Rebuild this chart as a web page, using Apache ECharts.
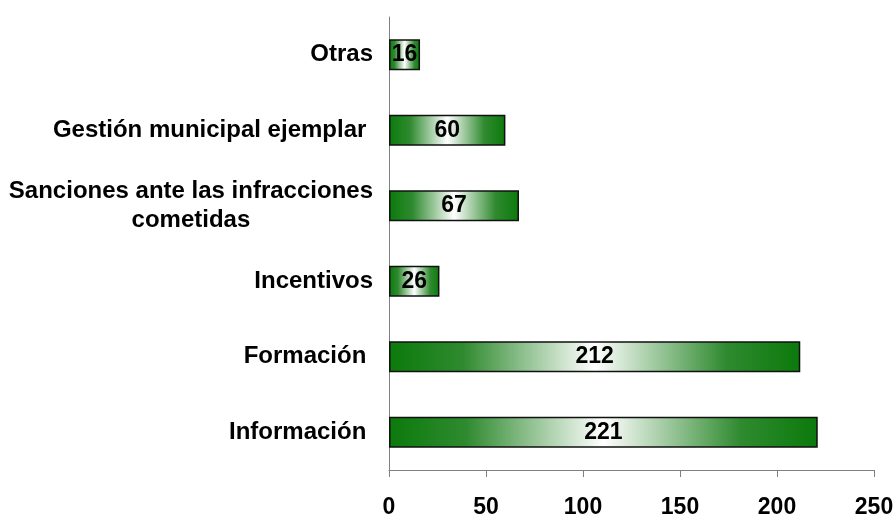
<!DOCTYPE html>
<html>
<head>
<meta charset="utf-8">
<script src="https://cdn.jsdelivr.net/npm/echarts@6/dist/echarts.min.js"></script>
<style>
  html, body { margin: 0; padding: 0; background: #fff; }
  #chart { width: 896px; height: 515px; }
</style>
</head>
<body>
<div id="chart"></div>
<script>
// categories listed bottom to top
const categories = ['Información ', 'Formación ', 'Incentivos', 'Sanciones ante las infracciones\ncometidas', 'Gestión municipal ejemplar ', 'Otras']
const values = [221, 212, 26, 67, 60, 16]
const xTicks = [0, 50, 100, 150, 200, 250]

const green = '#0b7a0b'
const font = 'Liberation Sans, Arial'
const barFill = new echarts.graphic.LinearGradient(0, 0, 1, 0, [
  { offset: 0, color: green },
  { offset: 0.18, color: '#2f8a2f' },
  { offset: 0.5, color: '#ffffff' },
  { offset: 0.82, color: '#2f8a2f' },
  { offset: 1, color: green }
])

const myChart = echarts.init(document.getElementById('chart'))
myChart.setOption({
  animation: false,
  grid: { left: 389, right: 22, top: 17, bottom: 45, outerBoundsMode: 'none' },
  xAxis: {
    type: 'value',
    min: xTicks[0],
    max: xTicks[xTicks.length - 1],
    interval: 50,
    splitLine: { show: false },
    axisLine: { show: true, lineStyle: { color: '#808080', width: 1 } },
    axisTick: { show: true, length: 7, lineStyle: { color: '#808080' } },
    axisLabel: {
      margin: 26,
      color: '#000',
      fontFamily: font,
      fontWeight: 'bold',
      fontSize: 23
    }
  },
  yAxis: {
    type: 'category',
    data: categories,
    axisLine: { show: true, lineStyle: { color: '#808080', width: 1 } },
    axisTick: { show: false },
    axisLabel: {
      margin: 16,
      color: '#000',
      fontFamily: font,
      fontWeight: 'bold',
      fontSize: 24,
      lineHeight: 29,
      formatter: function (val) {
        return val.split('\n').map(s => '{c|' + s + '}').join('\n')
      },
      rich: {
        c: {
          align: 'center',
          color: '#000',
          fontFamily: font,
          fontWeight: 'bold',
          fontSize: 24,
          lineHeight: 29
        }
      }
    }
  },
  series: [{
    type: 'bar',
    barWidth: 31,
    data: values,
    itemStyle: {
      color: barFill,
      borderColor: '#111',
      borderWidth: 1.5
    },
    label: {
      show: true,
      position: 'inside',
      color: '#000',
      fontFamily: font,
      fontWeight: 'bold',
      fontSize: 23
    }
  }]
})
</script>
</body>
</html>
